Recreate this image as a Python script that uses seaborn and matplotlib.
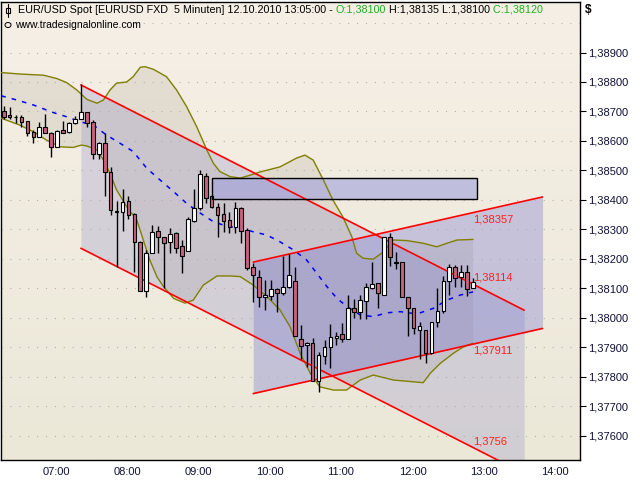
import numpy as np
import pandas as pd
import matplotlib
matplotlib.use("Agg")
import matplotlib.pyplot as plt
import matplotlib.transforms as mtransforms
from matplotlib.patches import Rectangle, Polygon
import seaborn as sns

sns.set_style("white")
plt.rcParams["font.family"] = ["Liberation Sans", "DejaVu Sans"]

# ---------------- data ----------------
# bar index: 0 = 07:00, one bar = 5 minutes
bar_index = list(range(-6, 74))
opens = [1.38702, 1.38688, 1.38682, 1.38680, 1.38668, 1.38630, 1.38614, 1.38646, 1.38626, 1.38580,
         1.38637, 1.38631, 1.38660, 1.38675, 1.38697, 1.38664, 1.38555, 1.38592, 1.38494, 1.38362,
         1.38360, 1.38396, 1.38352, 1.38258, 1.38092, 1.38219, 1.38296, 1.38273, 1.38258, 1.38287,
         1.38244, 1.38228, 1.38329, 1.38372, 1.38481, 1.38413, 1.38375, 1.38352, 1.38332, 1.38309,
         1.38372, 1.38298, 1.38171, 1.38140, 1.38069, 1.38074, 1.38097, 1.38083, 1.38106, 1.38125,
         1.37927, 1.37907, 1.37916, 1.37786, 1.37871, 1.37900, 1.37931, 1.37945, 1.37927, 1.38032,
         1.38021, 1.38058, 1.38101, 1.38119, 1.38077, 1.38273, 1.38190, 1.38189, 1.38070, 1.38032,
         1.37958, 1.37959, 1.37880, 1.37987, 1.38023, 1.38125, 1.38171, 1.38138, 1.38154, 1.38100]
highs = [1.38719, 1.38716, 1.38688, 1.38688, 1.38668, 1.38637, 1.38664, 1.38691, 1.38631, 1.38637,
         1.38667, 1.38664, 1.38685, 1.38793, 1.38698, 1.38671, 1.38597, 1.38626, 1.38511, 1.38396,
         1.38437, 1.38414, 1.38357, 1.38260, 1.38230, 1.38315, 1.38313, 1.38273, 1.38306, 1.38292,
         1.38264, 1.38341, 1.38436, 1.38501, 1.38490, 1.38417, 1.38389, 1.38391, 1.38360, 1.38394,
         1.38377, 1.38304, 1.38185, 1.38162, 1.38128, 1.38128, 1.38100, 1.38211, 1.38217, 1.38171,
         1.37976, 1.37919, 1.37931, 1.37884, 1.37925, 1.37979, 1.37952, 1.37984, 1.38077, 1.38064,
         1.38077, 1.38119, 1.38190, 1.38119, 1.38275, 1.38289, 1.38223, 1.38189, 1.38072, 1.38035,
         1.37987, 1.37959, 1.37987, 1.38100, 1.38142, 1.38182, 1.38179, 1.38179, 1.38179, 1.38135]
lows = [1.38673, 1.38673, 1.38660, 1.38648, 1.38617, 1.38594, 1.38614, 1.38626, 1.38547, 1.38580,
        1.38626, 1.38628, 1.38657, 1.38675, 1.38648, 1.38538, 1.38540, 1.38414, 1.38349, 1.38173,
        1.38296, 1.38334, 1.38154, 1.38090, 1.38072, 1.38219, 1.38219, 1.38100, 1.38221, 1.38221,
        1.38151, 1.38228, 1.38324, 1.38366, 1.38391, 1.38373, 1.38275, 1.38292, 1.38289, 1.38289,
        1.38255, 1.38162, 1.38054, 1.38038, 1.38027, 1.38061, 1.38020, 1.38077, 1.38100, 1.37938,
        1.37860, 1.37833, 1.37787, 1.37749, 1.37843, 1.37829, 1.37908, 1.37918, 1.37927, 1.37999,
        1.37996, 1.37995, 1.38097, 1.38032, 1.38077, 1.38176, 1.38166, 1.38070, 1.37938, 1.37946,
        1.37860, 1.37848, 1.37877, 1.37970, 1.38015, 1.38077, 1.38104, 1.38104, 1.38074, 1.38100]
closes = [1.38680, 1.38680, 1.38680, 1.38665, 1.38628, 1.38614, 1.38646, 1.38626, 1.38578, 1.38635,
          1.38628, 1.38660, 1.38675, 1.38697, 1.38660, 1.38555, 1.38592, 1.38494, 1.38365, 1.38359,
          1.38392, 1.38349, 1.38258, 1.38092, 1.38221, 1.38292, 1.38273, 1.38255, 1.38283, 1.38236,
          1.38210, 1.38334, 1.38372, 1.38487, 1.38405, 1.38375, 1.38349, 1.38329, 1.38309, 1.38372,
          1.38296, 1.38168, 1.38145, 1.38069, 1.38077, 1.38097, 1.38085, 1.38106, 1.38145, 1.37938,
          1.37906, 1.37914, 1.37787, 1.37874, 1.37902, 1.37936, 1.37940, 1.37927, 1.38032, 1.38021,
          1.38061, 1.38106, 1.38115, 1.38083, 1.38273, 1.38206, 1.38186, 1.38070, 1.38032, 1.37967,
          1.37972, 1.37880, 1.37987, 1.38023, 1.38125, 1.38171, 1.38134, 1.38154, 1.38097, 1.38120]

# Bollinger bands (bar index, price)
upper_x = [-6.4, -3.3, 0.7, 2.9, 4.6, 6.3, 8.0, 9.7, 10.8, 11.9, 13.0, 14.7, 15.8, 17.0, 17.8, 19.2,
           21.4, 23.1, 24.8, 26.5, 28.2, 29.3, 30.4, 32.1, 33.8, 35.5, 37.2, 40.5, 43.3, 44.7, 46.1,
           47.8, 49.4, 51.1, 52.6, 53.4, 54.5, 56.2, 57.6, 59.6, 61.9, 64.6, 66.9, 68.6, 70.3, 73.0]
upper_band = [1.38832, 1.38827, 1.38823, 1.38812, 1.38798, 1.38773, 1.38741, 1.38728, 1.38739,
              1.38773, 1.38796, 1.38800, 1.38818, 1.38850, 1.38852, 1.38843, 1.38818, 1.38773,
              1.38716, 1.38648, 1.38569, 1.38524, 1.38496, 1.38479, 1.38474, 1.38484, 1.38495,
              1.38512, 1.38542, 1.38552, 1.38535, 1.38468, 1.38400, 1.38342, 1.38275, 1.38219,
              1.38202, 1.38199, 1.38219, 1.38264, 1.38262, 1.38253, 1.38241, 1.38253, 1.38264, 1.38266]
lower_x = [-6.4, -3.3, -1.0, 1.2, 3.5, 5.7, 7.1, 8.0, 9.7, 10.8, 11.9, 13.0, 14.7, 16.4, 17.5, 18.6,
           19.8, 20.9, 22.6, 24.5, 25.9, 27.6, 29.9, 32.1, 33.8, 36.0, 38.3, 40.5, 42.2, 43.9, 45.6,
           47.2, 49.5, 51.7, 54.0, 56.2, 59.6, 63.0, 64.6, 65.8, 67.5, 69.7, 71.4, 73.0]
lower_band = [1.38677, 1.38654, 1.38631, 1.38603, 1.38580, 1.38578, 1.38586, 1.38583, 1.38569,
              1.38535, 1.38490, 1.38434, 1.38377, 1.38332, 1.38264, 1.38196, 1.38139, 1.38106,
              1.38066, 1.38050, 1.38060, 1.38111, 1.38142, 1.38142, 1.38140, 1.38111, 1.38072,
              1.38027, 1.37970, 1.37880, 1.37812, 1.37766, 1.37755, 1.37755, 1.37789, 1.37806,
              1.37789, 1.37783, 1.37780, 1.37812, 1.37846, 1.37880, 1.37902, 1.37914]
mid_x = [-6.4, -3.8, -1.0, 2.4, 4.6, 6.9, 9.1, 11.3, 13.6, 15.8, 18.1, 20.3, 22.6, 24.8, 27.1, 29.3,
         31.5, 33.8, 36.0, 38.3, 40.5, 42.8, 45.0, 46.7, 48.4, 50.1, 51.8, 54.0, 56.2, 58.5, 60.7,
         62.9, 64.1, 66.3, 68.6, 70.8, 73.0]
mid_band = [1.38753, 1.38739, 1.38722, 1.38696, 1.38682, 1.38665, 1.38654, 1.38620, 1.38592,
            1.38564, 1.38507, 1.38468, 1.38428, 1.38388, 1.38355, 1.38326, 1.38311, 1.38304,
            1.38292, 1.38281, 1.38258, 1.38230, 1.38196, 1.38151, 1.38106, 1.38066, 1.38038,
            1.38010, 1.38004, 1.38017, 1.38021, 1.38015, 1.38017, 1.38032, 1.38060, 1.38077, 1.38088]

# regression channels and zone
down_x = [7, 81.6]
down_upper = [1.38790, 1.38026]
down_lower = [1.38236, 1.37472]
up_x = [36, 84.7]
up_upper = [1.38189, 1.38410]
up_lower = [1.37743, 1.37964]
zone_x = [29, 73.7]
zone_y = [1.38403, 1.38474]

level_values = [1.38357, 1.38114, 1.37911, 1.3756]
level_texts = ["1,38357", "1,38114", "1,37911", "1,3756"]
level_va = ["top", "bottom", "top", "bottom"]

hour_ticks = [0, 12, 24, 36, 48, 60, 72, 84]
hour_labels = ["07:00", "08:00", "09:00", "10:00", "11:00", "12:00", "13:00", "14:00"]
price_ticks = [1.376, 1.377, 1.378, 1.379, 1.380, 1.381, 1.382, 1.383, 1.384, 1.385,
               1.386, 1.387, 1.388, 1.389]

# ---------------- figure ----------------
fig = plt.figure(figsize=(6.4, 4.8), dpi=100)
fig.patch.set_facecolor("white")
ax = fig.add_axes([1 / 640, 20 / 480, 579 / 640, 458 / 480])
ax.set_xlim(-6.45, 91.0)
ax.set_ylim(1.375178, 1.390713)

# background gradient
top_c = np.array(matplotlib.colors.to_rgb("#f6efe6"))
bot_c = np.array(matplotlib.colors.to_rgb("#ebe8d8"))
t = np.linspace(0, 1, 256)[:, None]
grad = (top_c * (1 - t) + bot_c * t)[:, None, :]
ax.imshow(grad, extent=[0, 1, 0, 1], transform=ax.transAxes, aspect="auto", zorder=0)

# Bollinger fill
poly = np.column_stack([upper_x + lower_x[::-1], upper_band + lower_band[::-1]])
ax.add_patch(Polygon(poly, closed=True, facecolor="#9a9080", alpha=0.18, edgecolor="none", zorder=1))

# channel fills
ax.fill_between(down_x, down_lower, down_upper, color="#8c88c8", alpha=0.27, lw=0, zorder=1.2)
ax.fill_between(up_x, up_lower, up_upper, color="#7070d0", alpha=0.33, lw=0, zorder=1.3)

# zone rectangle
ax.add_patch(Rectangle((zone_x[0], zone_y[0]), zone_x[1] - zone_x[0], zone_y[1] - zone_y[0],
                       facecolor="#a0a0dc", alpha=0.6, edgecolor="none", zorder=1.4))
ax.add_patch(Rectangle((zone_x[0], zone_y[0]), zone_x[1] - zone_x[0], zone_y[1] - zone_y[0],
                       facecolor="none", edgecolor="black", lw=1.0, zorder=6))

# grid
for p in price_ticks + [1.390]:
    ax.axhline(p, color="#b0b0b0", lw=0.8, ls=(0, (1, 7)), zorder=1.6)

# bands via seaborn
up_df = pd.DataFrame({"bar": upper_x, "price": upper_band})
lo_df = pd.DataFrame({"bar": lower_x, "price": lower_band})
mid_df = pd.DataFrame({"bar": mid_x, "price": mid_band})
sns.lineplot(data=up_df, x="bar", y="price", color="#808000", lw=1.0, ax=ax, zorder=3, sort=False)
sns.lineplot(data=lo_df, x="bar", y="price", color="#808000", lw=1.0, ax=ax, zorder=3, sort=False)
sns.lineplot(data=mid_df, x="bar", y="price", color="#0000ff", lw=1.1, ax=ax, zorder=3, sort=False,
             dashes=False, linestyle=(0, (3, 4)))

# channel lines
for ys in (down_upper, down_lower):
    ax.plot(down_x, ys, color="#ff0000", lw=1.2, zorder=3.5)
for ys in (up_upper, up_lower):
    ax.plot(up_x, ys, color="#ff0000", lw=1.2, zorder=3.5)

# candles
o = np.array(opens); c = np.array(closes); h = np.array(highs); l = np.array(lows)
xb = np.array(bar_index)
ax.vlines(xb, l, h, color="black", lw=1.0, zorder=4)
body_bottom = np.minimum(o, c)
body_h = np.maximum(np.abs(c - o), 0.000015)
colors = np.where(c >= o, "white", "#c8607e")
ax.bar(xb, body_h, bottom=body_bottom, width=0.62, color=colors, edgecolor="black",
       linewidth=0.8, zorder=5)

# level labels
for v, s, va in zip(level_values, level_texts, level_va):
    off = -1.5 if va == "top" else 1.5
    tr = ax.transData + mtransforms.ScaledTranslation(0, off / 100, fig.dpi_scale_trans)
    ax.text(73, v, s, color="#ff2020", fontsize=8, ha="left", va=va, transform=tr, zorder=7)

# axes styling
ax.set_xlabel("")
ax.set_ylabel("")
for sp in ax.spines.values():
    sp.set_color("black")
    sp.set_linewidth(1.0)
ax.yaxis.tick_right()
ax.set_yticks(price_ticks)
ax.set_yticklabels([f"{p:.5f}".replace(".", ",") for p in price_ticks])
ax.set_xticks(hour_ticks)
ax.set_xticklabels(hour_labels)
ax.tick_params(axis="y", direction="out", length=4, width=0.8, pad=1.5, labelsize=8,
               colors="black", labelcolor="#10103a")
ax.tick_params(axis="x", direction="out", length=5, width=0.8, pad=0, labelsize=8,
               colors="black", labelcolor="#10103a")
for lab in ax.get_xticklabels():
    lab.set_horizontalalignment("left")
    lab.set_transform(lab.get_transform() + mtransforms.ScaledTranslation(3 / 100, 0, fig.dpi_scale_trans))

# header texts
renderer = fig.canvas.get_renderer()
pieces = [("EUR/USD Spot [EURUSD FXD  5 Minuten] 12.10.2010 13:05:00 - ", "black"),
          ("O:1,38100", "#20b020"), (" H:1,38135 L:1,38100", "black"), (" C:1,38120", "#20b020")]
xpix = 18
for s, col in pieces:
    tx = fig.text(xpix / 640, 1 - 10 / 480, s, color=col, fontsize=7.75, ha="left", va="center")
    bb = tx.get_window_extent(renderer)
    xpix += bb.width
fig.text(15 / 640, 1 - 25 / 480, "www.tradesignalonline.com", color="black", fontsize=7.45,
         ha="left", va="center")
fig.text(585 / 640, 1 - 10 / 480, "$", color="black", fontsize=8.5, fontweight="bold",
         ha="left", va="center")

# small header icons
fig.add_artist(plt.Line2D([8 / 640, 8 / 640], [1 - 4 / 480, 1 - 17 / 480], color="black", lw=0.8))
fig.add_artist(Rectangle((6 / 640, 1 - 13 / 480), 4 / 640, 5 / 480, facecolor="white",
                         edgecolor="black", lw=0.8))
fig.add_artist(matplotlib.patches.Ellipse((8 / 640, 1 - 25 / 480), 6 / 640, 5 / 480,
                                          facecolor="none", edgecolor="black", lw=0.7))

fig.savefig("out.png", dpi=100)
